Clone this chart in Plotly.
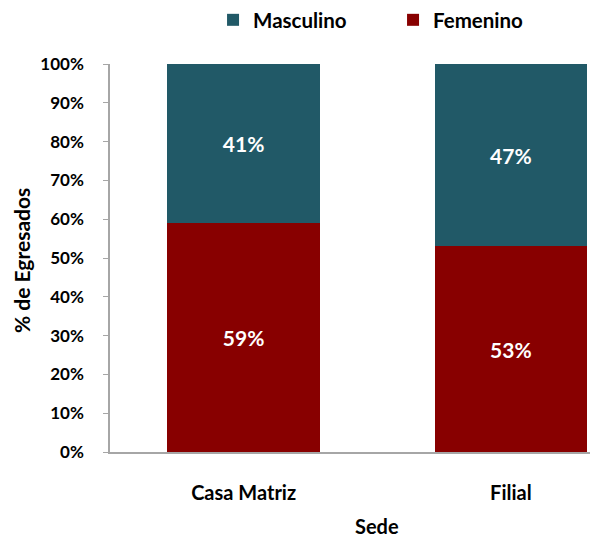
import plotly.graph_objects as go

categories = ["Casa Matriz", "Filial"]
femenino = [59, 53]
masculino = [41, 47]
y_ticks = [0, 10, 20, 30, 40, 50, 60, 70, 80, 90, 100]
y_tick_labels = [f"{v}%" for v in y_ticks]

FONT = "Lato"
def f(size, color="black"):
    return dict(family=FONT, size=size, color=color, weight="bold")

# page is offset by the default 8px body margin -> figure is 590x532
W, H = 590, 532
L, T, B = 102, 56, 88
PW, PH = W - L, H - T - B

fig = go.Figure()
fig.add_trace(go.Bar(
    name="Femenino", x=categories, y=femenino,
    marker=dict(color="#880000", line=dict(width=0)),
    text=[f"{v}%" for v in femenino], textposition="inside",
    insidetextanchor="middle", textfont=f(21, "white"),
    width=0.57,
))
fig.add_trace(go.Bar(
    name="Masculino", x=categories, y=masculino,
    marker=dict(color="#215967", line=dict(width=0)),
    text=[f"{v}%" for v in masculino], textposition="inside",
    insidetextanchor="middle", textfont=f(21, "white"),
    width=0.57,
))

fig.update_layout(
    barmode="stack",
    width=W, height=H,
    margin=dict(l=L, r=0, t=T, b=B, autoexpand=False),
    paper_bgcolor="white", plot_bgcolor="white",
    font=f(17),
    showlegend=True,
    legend=dict(orientation="h", traceorder="reversed",
                x=0.58, xanchor="center", y=1 + 44 / PH, yanchor="middle",
                font=f(20.5), itemwidth=30,
                entrywidth=135, entrywidthmode="pixels"),
    xaxis=dict(range=[-0.5, 1.326], showline=True, linecolor="#A6A6A6",
               linewidth=1.5, ticks="", showgrid=False, zeroline=False,
               tickfont=f(20), ticklabelstandoff=22, automargin=False),
    yaxis=dict(range=[0, 100], tickvals=y_ticks, ticktext=y_tick_labels,
               showline=True, linecolor="#A6A6A6", linewidth=1.5,
               ticks="outside", ticklen=5, tickcolor="#A6A6A6",
               showgrid=False, zeroline=False, tickfont=f(17),
               ticklabelstandoff=16, automargin=False),
    annotations=[
        dict(text="Sede", xref="paper", yref="paper",
             x=(369 - L) / PW, y=-74 / PH,
             xanchor="center", yanchor="middle", showarrow=False,
             font=f(20)),
        dict(text="% de Egresados", xref="paper", yref="paper",
             x=(13 - L) / PW, y=(444 - 253) / PH, textangle=-90,
             xanchor="center", yanchor="middle", showarrow=False,
             font=f(21)),
    ],
)

fig.write_html("out.html")
